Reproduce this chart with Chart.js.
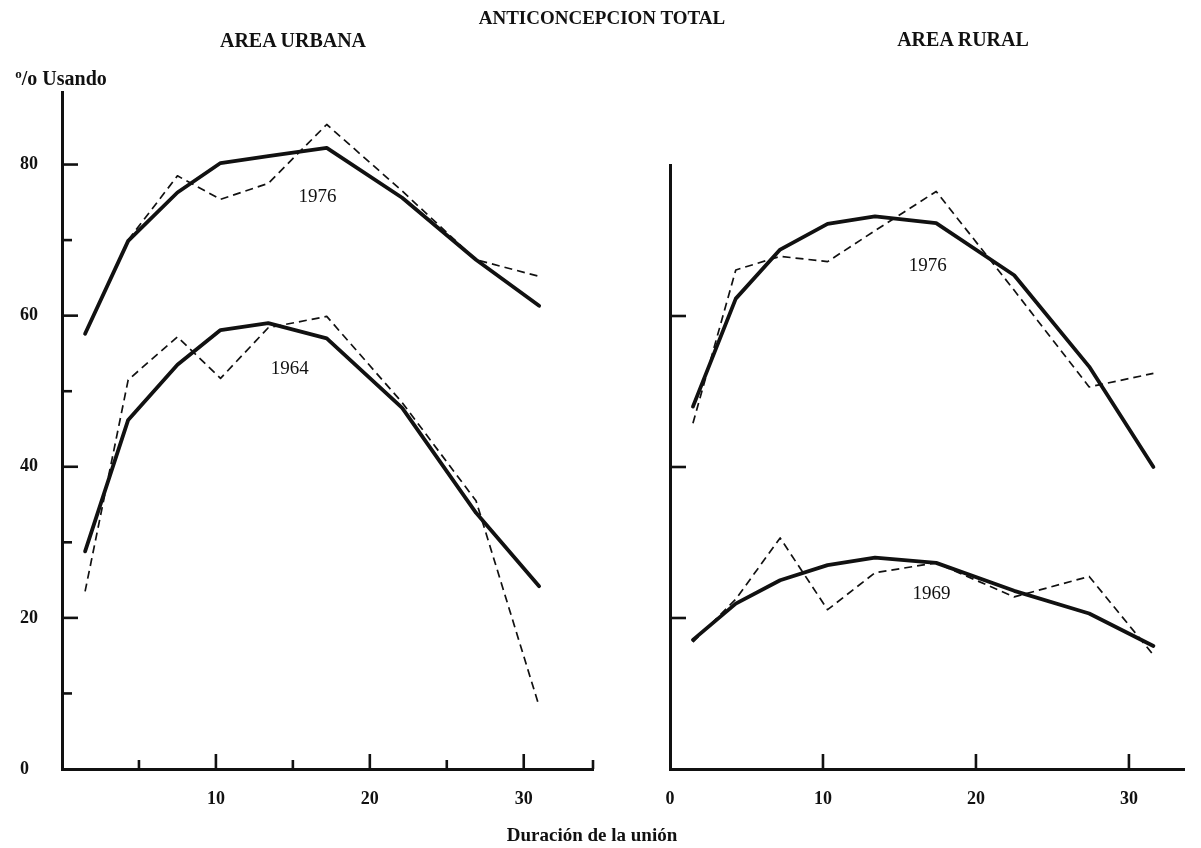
<!DOCTYPE html>
<html>
<head>
<meta charset="utf-8">
<script src="https://cdn.jsdelivr.net/npm/chart.js@4.4.1/dist/chart.umd.min.js"></script>
<style>
  html, body { margin: 0; padding: 0; background: #fff; }
  #page { position: relative; width: 1201px; height: 848px; overflow: hidden;
          font-family: "Liberation Serif", serif; color: #111; }
  .txt { position: absolute; transform: translate(-50%, -50%); white-space: nowrap; font-weight: bold; }
  #urbana { position: absolute; left: 0; top: 0; }
  #rural { position: absolute; left: 600px; top: 0; }
</style>
</head>
<body>
<div id="page">
  <canvas id="urbana" width="600" height="848"></canvas>
  <canvas id="rural" width="601" height="848"></canvas>
  <div class="txt" style="left:602px; top:18px; font-size:19px">ANTICONCEPCION TOTAL</div>
  <div class="txt" style="left:293px; top:40px; font-size:20px">AREA URBANA</div>
  <div class="txt" style="left:963px; top:39px; font-size:20px">AREA RURAL</div>
  <div class="txt" style="left:61px; top:78px; font-size:20px"><span style="font-size:13px; position:relative; top:-7px">o</span>/o Usando</div>
  <div class="txt" style="left:592px; top:835px; font-size:19px">Duración de la unión</div>
</div>

<script>
// duracion de la union (años) - puntos de cada grupo
const durUrbana = [1.5, 4.3, 7.5, 10.3, 13.4, 17.2, 22.1, 26.9, 31.0];
const durRural  = [1.5, 4.3, 7.2, 10.3, 13.4, 17.4, 22.5, 27.4, 31.6];

// % usando - area urbana (linea gruesa = suavizada, punteada = observada)
const urb1976    = [57.6, 69.9, 76.3, 80.2, 81.1, 82.2, 75.6, 67.4, 61.3];
const urb1976Obs = [57.5, 70.0, 78.5, 75.4, 77.5, 85.3, 76.5, 67.4, 65.2];
const urb1964    = [28.8, 46.2, 53.5, 58.1, 59.0, 57.0, 47.8, 33.9, 24.2];
const urb1964Obs = [23.5, 51.5, 57.2, 51.7, 58.4, 59.9, 48.5, 35.5, 8.3];

// % usando - area rural
const rur1976    = [48.0, 62.3, 68.8, 72.2, 73.2, 72.3, 65.4, 53.3, 40.0];
const rur1976Obs = [45.8, 66.1, 67.9, 67.2, 71.3, 76.5, 63.4, 50.6, 52.4];
const rur1969    = [17.1, 21.9, 25.0, 27.0, 28.0, 27.3, 23.6, 20.6, 16.3];
const rur1969Obs = [16.8, 22.5, 30.6, 21.1, 26.0, 27.3, 22.8, 25.5, 15.1];

// etiquetas de los ejes
const yLabelsUrbana = [0, 20, 40, 60, 80];
const xLabelsUrbana = [10, 20, 30];
const xLabelsRural  = [0, 10, 20, 30];

// marcas (ticks) hacia adentro
const marcasUrbana = { yMayor: [20, 40, 60, 80], yMenor: [10, 30, 50, 70], xMayor: [10, 20, 30], xMenor: [5, 15, 25, 34.5] };
const marcasRural  = { yMayor: [20, 40, 60], yMenor: [], xMayor: [10, 20, 30], xMenor: [] };

const INK = '#111';
const fuente = { family: 'Liberation Serif', size: 18, weight: 'bold' };

function serie(xs, ys, solida) {
  return {
    data: xs.map((x, i) => ({ x: x, y: ys[i] })),
    borderColor: INK,
    borderWidth: solida ? 3.8 : 1.7,
    borderDash: solida ? [] : [8, 5],
    borderJoinStyle: 'round',
    borderCapStyle: solida ? 'round' : 'butt',
    pointRadius: 0,
    tension: 0,
    fill: false
  };
}

// dibuja los ticks hacia adentro y los rotulos de las curvas
const marcas = {
  id: 'marcas',
  afterDraw(chart, args, opts) {
    const { ctx, scales: { x, y } } = chart;
    ctx.save();
    ctx.strokeStyle = INK;
    ctx.lineWidth = 2.6;
    const linea = (x1, y1, x2, y2) => { ctx.beginPath(); ctx.moveTo(x1, y1); ctx.lineTo(x2, y2); ctx.stroke(); };
    opts.yMayor.forEach(v => { const p = y.getPixelForValue(v); linea(x.left, p, x.left + 16, p); });
    opts.yMenor.forEach(v => { const p = y.getPixelForValue(v); linea(x.left, p, x.left + 10, p); });
    opts.xMayor.forEach(v => { const p = x.getPixelForValue(v); linea(p, y.bottom, p, y.bottom - 15); });
    opts.xMenor.forEach(v => { const p = x.getPixelForValue(v); linea(p, y.bottom, p, y.bottom - 9); });

    ctx.fillStyle = INK;
    ctx.font = '19px "Liberation Serif"';
    ctx.textAlign = 'center';
    ctx.textBaseline = 'middle';
    opts.rotulos.forEach(r => ctx.fillText(r.texto, x.getPixelForValue(r.x), y.getPixelForValue(r.y)));
    ctx.restore();
  }
};

function crearGrafico(id, datasets, cfg) {
  return new Chart(document.getElementById(id), {
    type: 'line',
    data: { datasets: datasets },
    plugins: [marcas],
    options: {
      responsive: false,
      animation: false,
      layout: { padding: cfg.padding },
      plugins: {
        legend: { display: false },
        tooltip: { enabled: false },
        marcas: cfg.marcas
      },
      scales: {
        x: {
          type: 'linear', min: 0, max: cfg.xMax,
          afterBuildTicks: s => { s.ticks = cfg.xLabels.map(v => ({ value: v })); },
          afterFit: s => { s.height = 79; },
          grid: { display: false, drawTicks: false },
          border: { display: true, color: INK, width: 3 },
          ticks: { padding: 20, color: INK, font: fuente, maxRotation: 0, autoSkip: false }
        },
        y: {
          type: 'linear', min: 0, max: cfg.yMax,
          afterBuildTicks: s => { s.ticks = cfg.yLabels.map(v => ({ value: v })); },
          afterFit: s => { s.width = cfg.yWidth; },
          grid: { display: false, drawTicks: false },
          border: { display: true, color: INK, width: 3 },
          ticks: { display: cfg.yLabels.length > 0, crossAlign: 'far', color: INK, font: fuente, autoSkip: false }
        }
      }
    }
  });
}

crearGrafico('urbana', [
  serie(durUrbana, urb1976, true),
  serie(durUrbana, urb1976Obs, false),
  serie(durUrbana, urb1964, true),
  serie(durUrbana, urb1964Obs, false)
], {
  padding: { left: 20, top: 92, right: 7, bottom: 0 },
  xMax: 34.5, yMax: 89.6, yWidth: 42,
  xLabels: xLabelsUrbana, yLabels: yLabelsUrbana,
  marcas: Object.assign({}, marcasUrbana, {
    rotulos: [{ texto: '1976', x: 16.6, y: 75.7 }, { texto: '1964', x: 14.8, y: 53.0 }]
  })
});

crearGrafico('rural', [
  serie(durRural, rur1976, true),
  serie(durRural, rur1976Obs, false),
  serie(durRural, rur1969, true),
  serie(durRural, rur1969Obs, false)
], {
  padding: { left: 0, top: 165, right: 17, bottom: 0 },
  xMax: 33.6, yMax: 80, yWidth: 70,
  xLabels: xLabelsRural, yLabels: [],
  marcas: Object.assign({}, marcasRural, {
    rotulos: [{ texto: '1976', x: 16.85, y: 66.6 }, { texto: '1969', x: 17.1, y: 23.2 }]
  })
});
</script>
</body>
</html>
